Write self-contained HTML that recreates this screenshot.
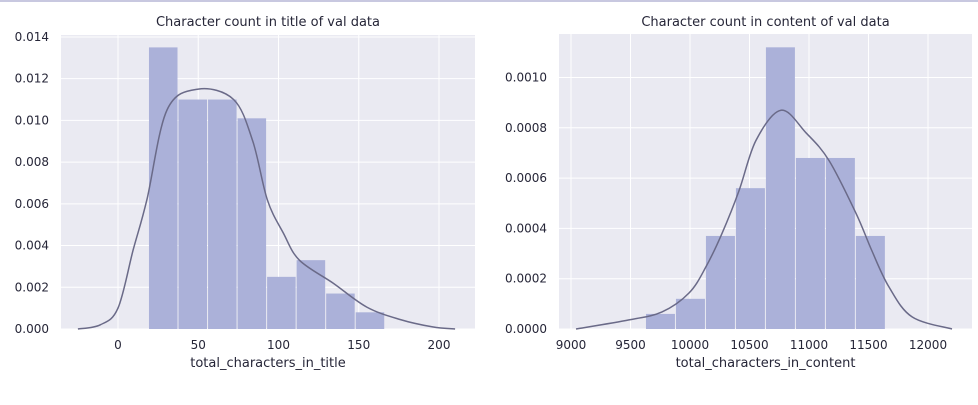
<!DOCTYPE html>
<html><head><meta charset="utf-8"><style>
body{margin:0;background:#fff;width:978px;height:400px;overflow:hidden;font-family:"Liberation Sans","DejaVu Sans",sans-serif}
svg text{font-family:"DejaVu Sans","Liberation Sans",sans-serif;fill:#262638}
</style></head><body>
<svg id="s" width="978" height="400">
<line x1="0" y1="1" x2="978" y2="1" stroke="#c8c8e0" stroke-width="2"/>
</svg>
<script>
const titleEdges=[19.3,37.7,56.1,74.5,92.9,111.3,129.7,148.1,166.5];
const titleHeights=[0.0135,0.011,0.011,0.0101,0.0025,0.0033,0.0017,0.0008];
const titleKdeX=[-25,-11,0,9.5,18,30.5,50,72,84,93,103,113,134,155,176,196,210];
const titleKdeY=[0,0.0002,0.001,0.0038,0.0062,0.0105,0.0115,0.011,0.009,0.0062,0.0046,0.0033,0.0022,0.00105,0.00045,0.0001,0];
const titleXTicks=[0,50,100,150,200];
const titleYTicks=[0,0.002,0.004,0.006,0.008,0.010,0.012,0.014];
const contEdges=[9630,9882,10134,10386,10638,10890,11142,11394,11646];
const contHeights=[0.00006,0.00012,0.00037,0.00056,0.00112,0.00068,0.00068,0.00037];
const contKdeX=[9042,9487,9765,9992,10134,10269,10412,10555,10765,10975,11168,11395,11529,11672,11866,12202];
const contKdeY=[0,0.000036,0.000068,0.000143,0.000247,0.00038,0.00055,0.00075,0.00087,0.00078,0.00067,0.00046,0.00031,0.000167,0.000048,0];
const contXTicks=[9000,9500,10000,10500,11000,11500,12000];
const contYTicks=[0,0.0002,0.0004,0.0006,0.0008,0.0010];
const NS="http://www.w3.org/2000/svg",S=document.getElementById('s');
function mk(t,a,p){const e=document.createElementNS(NS,t);for(const k in a)e.setAttribute(k,a[k]);(p||S).appendChild(e);return e;}
function smooth(P){let d='M'+P[0][0].toFixed(1)+','+P[0][1].toFixed(1);
 for(let i=0;i<P.length-1;i++){const p0=P[Math.max(0,i-1)],p1=P[i],p2=P[i+1],p3=P[Math.min(P.length-1,i+2)];
  const c1=[p1[0]+(p2[0]-p0[0])/6,p1[1]+(p2[1]-p0[1])/6],c2=[p2[0]-(p3[0]-p1[0])/6,p2[1]-(p3[1]-p1[1])/6];
  d+='C'+c1.map(v=>v.toFixed(1))+' '+c2.map(v=>v.toFixed(1))+' '+p2[0].toFixed(1)+','+p2[1].toFixed(1);}
 return d;}
function panel(o){
 const g=mk('g',{});
 
 
 const X=v=>o.x0px+(v-o.x0)*o.xs, Y=v=>o.y0px-v*o.ys;
 const bg=mk('rect',{x:o.L,y:o.T,width:o.R-o.L,height:o.B-o.T,fill:'#eaeaf2'},g);
 
 
 o.xt.forEach(v=>{const l=mk('line',{x1:X(v),x2:X(v),y1:o.T,y2:o.B,stroke:'#fff','stroke-width':1},g);
  
  
  const t=mk('text',{x:X(v),y:o.B+20,'font-size':12,'text-anchor':'middle'},g);t.textContent=v;
  
  });
 o.yt.forEach(v=>{const l=mk('line',{x1:o.L,x2:o.R,y1:Y(v),y2:Y(v),stroke:'#fff','stroke-width':1},g);
  
  
  const t=mk('text',{x:o.L-12,y:Y(v)+4,'font-size':12,'text-anchor':'end'},g);t.textContent=v.toFixed(o.dec);
  
  });
 o.h.forEach((h,i)=>{const r=mk('rect',{x:X(o.e[i]),y:Y(h),width:X(o.e[i+1])-X(o.e[i])-1,height:Y(0)-Y(h),fill:'#abb1d9'},g);
  
  });
 const p=mk('path',{d:smooth(o.kx.map((v,i)=>[X(v),Y(o.ky[i])])),fill:'none',stroke:'#6a6a88','stroke-width':1.5,'stroke-linejoin':'round'},g);
 
 
 const t=mk('text',{x:(o.L+o.R)/2,y:26,'font-size':13,'text-anchor':'middle'},g);t.textContent=o.title;
 
 
 const xl=mk('text',{x:(o.L+o.R)/2,y:367,'font-size':13,'text-anchor':'middle'},g);xl.textContent=o.xlabel;
 
 
}
panel({name:'title-chart',L:61,R:475,T:35,B:329,x0:0,x0px:118,xs:1.605,y0px:329,ys:20860,e:titleEdges,h:titleHeights,kx:titleKdeX,ky:titleKdeY,xt:titleXTicks,yt:titleYTicks,dec:3,title:'Character count in title of val data',xlabel:'total_characters_in_title'});
panel({name:'content-chart',L:559,R:972,T:34,B:329,x0:9000,x0px:571,xs:0.119,y0px:329,ys:251500,e:contEdges,h:contHeights,kx:contKdeX,ky:contKdeY,xt:contXTicks,yt:contYTicks,dec:4,title:'Character count in content of val data',xlabel:'total_characters_in_content'});
</script>
</body></html>
